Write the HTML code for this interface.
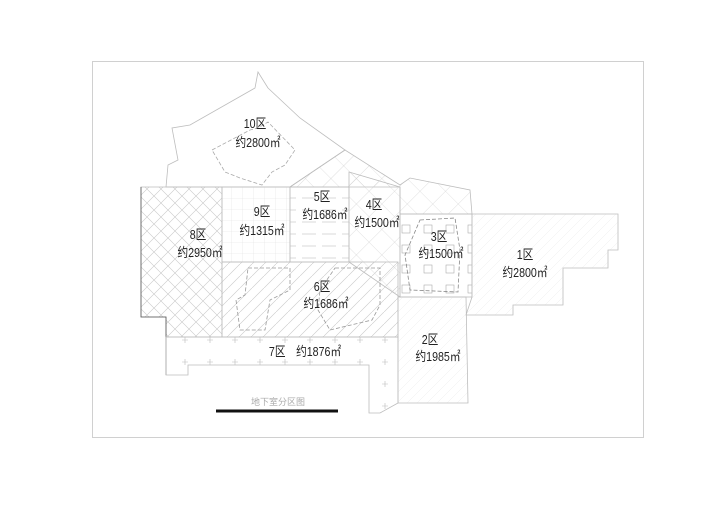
<!DOCTYPE html>
<html><head><meta charset="utf-8"><style>
html,body{margin:0;padding:0;background:#fff;width:720px;height:508px;overflow:hidden}
text{font-family:"Liberation Sans","Noto Sans CJK SC",sans-serif;fill:#222}
</style></head><body>
<svg width="720" height="508" viewBox="0 0 720 508" xmlns="http://www.w3.org/2000/svg">
<defs>
<pattern id="x" width="14" height="14" patternUnits="userSpaceOnUse"><path d="M0 0L14 14M14 0L0 14" stroke="#c8c8c8" stroke-width="0.6"/></pattern>
<pattern id="d" width="12" height="12" patternUnits="userSpaceOnUse"><path d="M0 12L12 0" stroke="#c8c8c8" stroke-width="0.6"/></pattern>
<pattern id="d2" width="18" height="18" patternUnits="userSpaceOnUse" patternTransform="rotate(45)"><path d="M0 0H18M0 0V18" stroke="#c8c8c8" stroke-width="0.6"/></pattern>
<pattern id="g" width="11" height="11" patternUnits="userSpaceOnUse"><path d="M0 0H11M0 0V11" stroke="#e0e0e0" stroke-width="0.6"/></pattern>
<pattern id="h" width="20" height="12" patternUnits="userSpaceOnUse"><path d="M2 6H16" stroke="#c0c0c0" stroke-width="0.6"/></pattern>
<pattern id="s" width="22" height="20" patternUnits="userSpaceOnUse"><rect x="6" y="5" width="8" height="8" fill="none" stroke="#aaa" stroke-width="0.6"/></pattern>
<pattern id="p" width="25" height="22" patternUnits="userSpaceOnUse"><path d="M10 7V13M7 10H13" stroke="#bbb" stroke-width="0.6"/></pattern>
<pattern id="f" width="10" height="10" patternUnits="userSpaceOnUse"><path d="M0 10L10 0" stroke="#eee" stroke-width="0.5"/></pattern>
</defs>
<rect x="92.5" y="61.5" width="551" height="376" fill="none" stroke="#d0d0d0"/>
<g stroke="#bdbdbd" stroke-width="0.8">
<polygon points="166,187 168,165 178,160 172,128 190,125 255,88 258,72 268,88 300,118 345,150 290,187 222,187" fill="#fff"/>
<polygon points="212,150 250,130 258,128 268,122 295,150 285,165 272,172 262,185 240,178 225,172" fill="none" stroke="#aaa" stroke-dasharray="4 2"/>
<polygon points="290,187 345,150 400,185 410,178 470,190 472,214 400,214 400,187" fill="url(#d2)"/>
<polygon points="141,187 222,187 222,337 166,337 166,317 141,317" fill="url(#x)"/>
<polyline points="141,187 141,317 166,317 166,375" fill="none" stroke="#555"/>
<rect x="222" y="187" width="68" height="75" fill="url(#g)"/>
<rect x="290" y="187" width="59" height="75" fill="url(#h)"/>
<polygon points="349,172 400,187 400,297 349,262" fill="url(#d2)"/>
<rect x="400" y="214" width="72" height="83" fill="url(#s)"/>
<polygon points="420,220 455,218 460,250 458,292 410,290 405,255" fill="none" stroke="#888" stroke-dasharray="4 2"/>
<polygon points="472,214 618,214 618,250 608,250 608,268 563,268 563,305 513,305 513,315 466,315 472,297" fill="url(#f)"/>
<rect x="222" y="262" width="176" height="75" fill="url(#d)"/>
<polygon points="248,268 290,268 290,290 270,300 265,330 240,330 236,300 245,295" fill="none" stroke="#999" stroke-dasharray="4 2"/>
<polygon points="335,268 380,268 380,305 372,320 330,330 318,310 320,290" fill="none" stroke="#999" stroke-dasharray="4 2"/>
<polygon points="398,297 466,297 468,403 398,403" fill="url(#f)"/>
<polygon points="166,337 398,337 398,403 380,413 369,413 369,365 188,365 188,375 166,375" fill="url(#p)"/>
</g>
<rect x="216" y="409.5" width="122" height="3" fill="#111"/>
<text x="278" y="405" font-size="9" style="fill:#aaa" text-anchor="middle">地下室分区图</text>
<g font-size="13" text-anchor="middle">
<g transform="translate(255,128) scale(0.82,1)"><text>10区</text></g><g transform="translate(258,147) scale(0.82,1)"><text>约2800㎡</text></g>
<g transform="translate(262,216) scale(0.82,1)"><text>9区</text></g><g transform="translate(262,235) scale(0.82,1)"><text>约1315㎡</text></g>
<g transform="translate(322,201) scale(0.82,1)"><text>5区</text></g><g transform="translate(325,219) scale(0.82,1)"><text>约1686㎡</text></g>
<g transform="translate(374,209) scale(0.82,1)"><text>4区</text></g><g transform="translate(377,227) scale(0.82,1)"><text>约1500㎡</text></g>
<g transform="translate(439,241) scale(0.82,1)"><text>3区</text></g><g transform="translate(441,258) scale(0.82,1)"><text>约1500㎡</text></g>
<g transform="translate(525,259) scale(0.82,1)"><text>1区</text></g><g transform="translate(525,277) scale(0.82,1)"><text>约2800㎡</text></g>
<g transform="translate(198,239) scale(0.82,1)"><text>8区</text></g><g transform="translate(200,257) scale(0.82,1)"><text>约2950㎡</text></g>
<g transform="translate(322,291) scale(0.82,1)"><text>6区</text></g><g transform="translate(326,308) scale(0.82,1)"><text>约1686㎡</text></g>
<g transform="translate(305,356) scale(0.82,1)"><text>7区　约1876㎡</text></g>
<g transform="translate(430,344) scale(0.82,1)"><text>2区</text></g><g transform="translate(438,361) scale(0.82,1)"><text>约1985㎡</text></g>
</g>
</svg>
</body></html>
